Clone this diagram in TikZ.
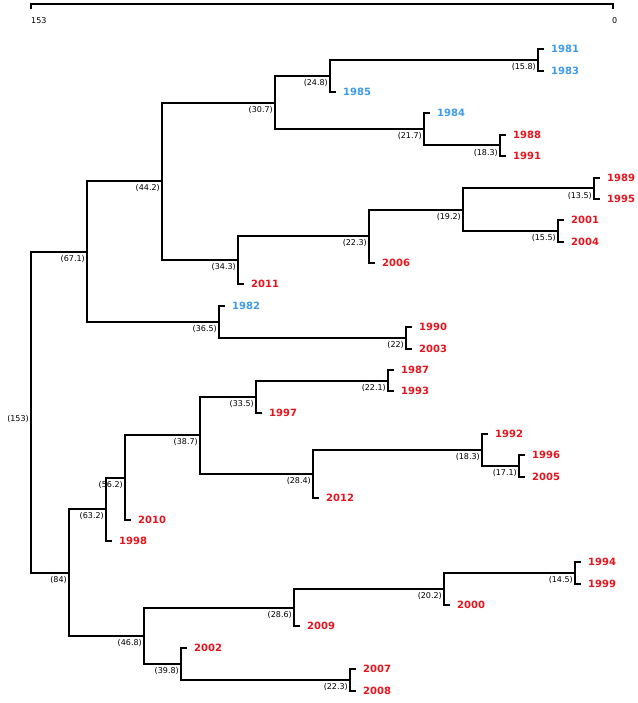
\documentclass[tikz,border=0pt]{standalone}
\usepackage{fontspec}
\setmainfont{DejaVu Sans}
\definecolor{lblue}{RGB}{61,155,233}
\definecolor{lred}{RGB}{230,20,28}

\begin{document}
\begin{tikzpicture}
      [x=1pt,y=-1pt
    % ветви и подписи
      ,br/.style={line width=2pt}
      ,lf/.style={line width=2pt,shorten >=7pt}
      ,yb/.style={anchor=west,inner sep=0pt,font=\bfseries\fontsize{10}{12}\selectfont,text=lblue}
      ,yr/.style={yb,text=lred}
      ,ht/.style={anchor=east,inner sep=0pt,font=\fontsize{8}{9}\selectfont}
      ]
        \useasboundingbox (0,0) rectangle (637,703);

    % шкала сверху
        \coordinate (sl) at (31,4);
        \coordinate (sr) at (613,4);
        \draw[br] ([yshift=-5pt]sl) -- (sl) -- (sr) -- ([yshift=-5pt]sr);
        \node[anchor=west,inner sep=0pt,font=\fontsize{8}{9}\selectfont] (s153) at (31,21) {153};
        \node[anchor=west,inner sep=0pt,font=\fontsize{8}{9}\selectfont] (s0) at (612,21) {0};

    % узлы дерева
        \coordinate (n153) at (31,412);
        \coordinate (n671) at (87,251.7);
        \coordinate (n442) at (162,181.4);
        \coordinate (n307) at (275,102.6);
        \coordinate (n248) at (330,76);
        \coordinate (n158) at (538,60);
        \coordinate (n217) at (424,129.3);
        \coordinate (n183a) at (500,145.5);
        \coordinate (n343) at (238,260.2);
        \coordinate (n223a) at (369,236.4);
        \coordinate (n192) at (463,209.8);
        \coordinate (n135) at (594,188.5);
        \coordinate (n155) at (558,231);
        \coordinate (n365) at (219,322);
        \coordinate (n22) at (406,338);
        \coordinate (n84) at (69,572.6);
        \coordinate (n632) at (106,509.4);
        \coordinate (n562) at (125,477.7);
        \coordinate (n387) at (200,435.4);
        \coordinate (n335) at (256,396.7);
        \coordinate (n221) at (388,380.5);
        \coordinate (n284) at (313,474);
        \coordinate (n183b) at (482,450);
        \coordinate (n171) at (519,466);
        \coordinate (n468) at (144,635.7);
        \coordinate (n286) at (294,607.5);
        \coordinate (n202) at (444,589);
        \coordinate (n145) at (575,573);
        \coordinate (n398) at (181,664);
        \coordinate (n223b) at (350,680);

    % годы
        \node[yb] (y1981) at (551,49) {1981};
        \node[yb] (y1983) at (551,71) {1983};
        \node[yb] (y1985) at (343,92) {1985};
        \node[yb] (y1984) at (437,113) {1984};
        \node[yr] (y1988) at (513,135) {1988};
        \node[yr] (y1991) at (513,156) {1991};
        \node[yr] (y1989) at (607,178) {1989};
        \node[yr] (y1995) at (607,199) {1995};
        \node[yr] (y2001) at (571,220) {2001};
        \node[yr] (y2004) at (571,242) {2004};
        \node[yr] (y2006) at (382,263) {2006};
        \node[yr] (y2011) at (251,284) {2011};
        \node[yb] (y1982) at (232,306) {1982};
        \node[yr] (y1990) at (419,327) {1990};
        \node[yr] (y2003) at (419,349) {2003};
        \node[yr] (y1987) at (401,370) {1987};
        \node[yr] (y1993) at (401,391) {1993};
        \node[yr] (y1997) at (269,413) {1997};
        \node[yr] (y1992) at (495,434) {1992};
        \node[yr] (y1996) at (532,455) {1996};
        \node[yr] (y2005) at (532,477) {2005};
        \node[yr] (y2012) at (326,498) {2012};
        \node[yr] (y2010) at (138,520) {2010};
        \node[yr] (y1998) at (119,541) {1998};
        \node[yr] (y1994) at (588,562) {1994};
        \node[yr] (y1999) at (588,584) {1999};
        \node[yr] (y2000) at (457,605) {2000};
        \node[yr] (y2009) at (307,626) {2009};
        \node[yr] (y2002) at (194,648) {2002};
        \node[yr] (y2007) at (363,669) {2007};
        \node[yr] (y2008) at (363,691) {2008};

    % ветви между узлами
        \draw[br] (n153) |- (n671);
        \draw[br] (n153) |- (n84);
        \draw[br] (n671) |- (n442);
        \draw[br] (n671) |- (n365);
        \draw[br] (n442) |- (n307);
        \draw[br] (n442) |- (n343);
        \draw[br] (n307) |- (n248);
        \draw[br] (n307) |- (n217);
        \draw[br] (n248) |- (n158);
        \draw[br] (n217) |- (n183a);
        \draw[br] (n343) |- (n223a);
        \draw[br] (n223a) |- (n192);
        \draw[br] (n192) |- (n135);
        \draw[br] (n192) |- (n155);
        \draw[br] (n365) |- (n22);
        \draw[br] (n84) |- (n632);
        \draw[br] (n84) |- (n468);
        \draw[br] (n632) |- (n562);
        \draw[br] (n562) |- (n387);
        \draw[br] (n387) |- (n335);
        \draw[br] (n387) |- (n284);
        \draw[br] (n335) |- (n221);
        \draw[br] (n284) |- (n183b);
        \draw[br] (n183b) |- (n171);
        \draw[br] (n468) |- (n286);
        \draw[br] (n468) |- (n398);
        \draw[br] (n286) |- (n202);
        \draw[br] (n202) |- (n145);
        \draw[br] (n398) |- (n223b);

    % ветви к годам
        \draw[lf] (n158) |- (y1981.west);
        \draw[lf] (n158) |- (y1983.west);
        \draw[lf] (n248) |- (y1985.west);
        \draw[lf] (n217) |- (y1984.west);
        \draw[lf] (n183a) |- (y1988.west);
        \draw[lf] (n183a) |- (y1991.west);
        \draw[lf] (n135) |- (y1989.west);
        \draw[lf] (n135) |- (y1995.west);
        \draw[lf] (n155) |- (y2001.west);
        \draw[lf] (n155) |- (y2004.west);
        \draw[lf] (n223a) |- (y2006.west);
        \draw[lf] (n343) |- (y2011.west);
        \draw[lf] (n365) |- (y1982.west);
        \draw[lf] (n22) |- (y1990.west);
        \draw[lf] (n22) |- (y2003.west);
        \draw[lf] (n221) |- (y1987.west);
        \draw[lf] (n221) |- (y1993.west);
        \draw[lf] (n335) |- (y1997.west);
        \draw[lf] (n183b) |- (y1992.west);
        \draw[lf] (n171) |- (y1996.west);
        \draw[lf] (n171) |- (y2005.west);
        \draw[lf] (n284) |- (y2012.west);
        \draw[lf] (n562) |- (y2010.west);
        \draw[lf] (n632) |- (y1998.west);
        \draw[lf] (n145) |- (y1994.west);
        \draw[lf] (n145) |- (y1999.west);
        \draw[lf] (n202) |- (y2000.west);
        \draw[lf] (n286) |- (y2009.west);
        \draw[lf] (n398) |- (y2002.west);
        \draw[lf] (n223b) |- (y2007.west);
        \draw[lf] (n223b) |- (y2008.west);

    % высоты узлов
        \node[ht] (h153) at ([shift={(-2,7)}]n153) {(153)};
        \node[ht] (h671) at ([shift={(-2,7)}]n671) {(67.1)};
        \node[ht] (h442) at ([shift={(-2,7)}]n442) {(44.2)};
        \node[ht] (h307) at ([shift={(-2,7)}]n307) {(30.7)};
        \node[ht] (h248) at ([shift={(-2,7)}]n248) {(24.8)};
        \node[ht] (h158) at ([shift={(-2,7)}]n158) {(15.8)};
        \node[ht] (h217) at ([shift={(-2,7)}]n217) {(21.7)};
        \node[ht] (h183a) at ([shift={(-2,7)}]n183a) {(18.3)};
        \node[ht] (h343) at ([shift={(-2,7)}]n343) {(34.3)};
        \node[ht] (h223a) at ([shift={(-2,7)}]n223a) {(22.3)};
        \node[ht] (h192) at ([shift={(-2,7)}]n192) {(19.2)};
        \node[ht] (h135) at ([shift={(-2,7)}]n135) {(13.5)};
        \node[ht] (h155) at ([shift={(-2,7)}]n155) {(15.5)};
        \node[ht] (h365) at ([shift={(-2,7)}]n365) {(36.5)};
        \node[ht] (h22) at ([shift={(-2,7)}]n22) {(22)};
        \node[ht] (h84) at ([shift={(-2,7)}]n84) {(84)};
        \node[ht] (h632) at ([shift={(-2,7)}]n632) {(63.2)};
        \node[ht] (h562) at ([shift={(-2,7)}]n562) {(56.2)};
        \node[ht] (h387) at ([shift={(-2,7)}]n387) {(38.7)};
        \node[ht] (h335) at ([shift={(-2,7)}]n335) {(33.5)};
        \node[ht] (h221) at ([shift={(-2,7)}]n221) {(22.1)};
        \node[ht] (h284) at ([shift={(-2,7)}]n284) {(28.4)};
        \node[ht] (h183b) at ([shift={(-2,7)}]n183b) {(18.3)};
        \node[ht] (h171) at ([shift={(-2,7)}]n171) {(17.1)};
        \node[ht] (h468) at ([shift={(-2,7)}]n468) {(46.8)};
        \node[ht] (h286) at ([shift={(-2,7)}]n286) {(28.6)};
        \node[ht] (h202) at ([shift={(-2,7)}]n202) {(20.2)};
        \node[ht] (h145) at ([shift={(-2,7)}]n145) {(14.5)};
        \node[ht] (h398) at ([shift={(-2,7)}]n398) {(39.8)};
        \node[ht] (h223b) at ([shift={(-2,7)}]n223b) {(22.3)};
       \end{tikzpicture}
\end{document}
